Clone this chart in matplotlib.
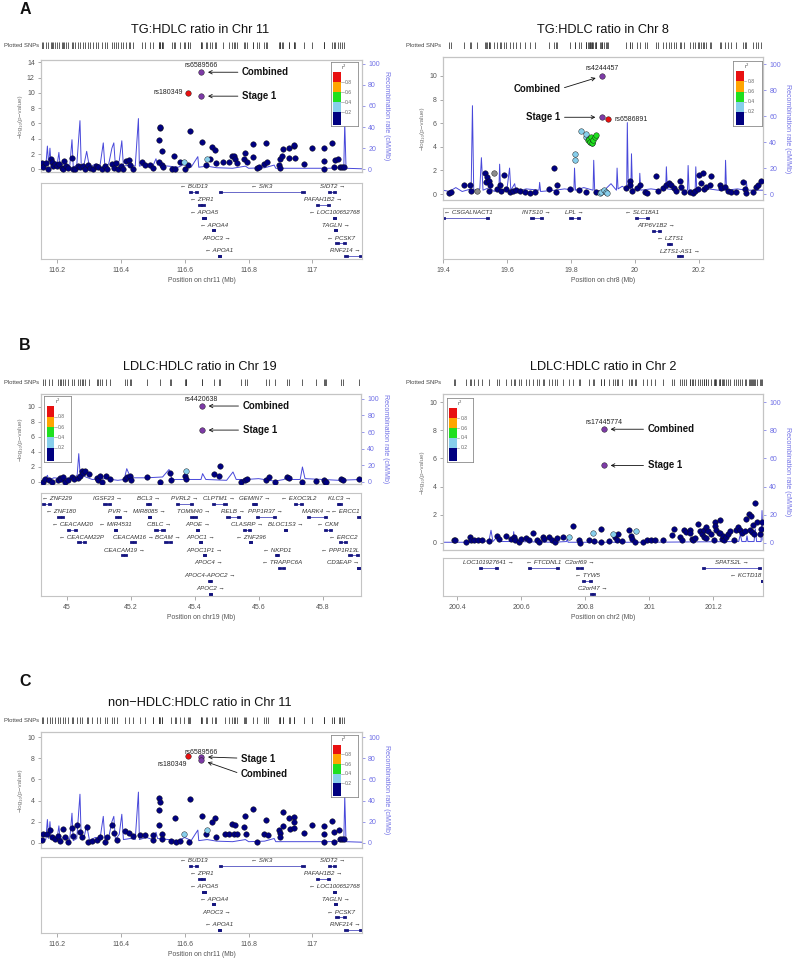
import matplotlib
matplotlib.use("Agg")
import matplotlib.pyplot as plt
from matplotlib.patches import Rectangle

plt.rcParams['font.family'] = ['Liberation Sans', 'DejaVu Sans']

# ------------------------------------------------------------------ data
# ---- Panel A (left): TG:HDLC ratio, chr11
A11_pos = [116.152, 116.157, 116.166, 116.173, 116.180, 116.183, 116.189, 116.194, 116.199, 116.207,
           116.215, 116.220, 116.222, 116.228, 116.236, 116.246, 116.249, 116.256, 116.267, 116.272,
           116.280, 116.288, 116.298, 116.303, 116.314, 116.322, 116.330, 116.340, 116.350, 116.356,
           116.371, 116.377, 116.385, 116.392, 116.400, 116.408, 116.416, 116.424, 116.429, 116.439,
           116.465, 116.476, 116.492, 116.502, 116.518, 116.518, 116.523, 116.523, 116.528, 116.528,
           116.533, 116.559, 116.567, 116.570, 116.586, 116.601, 116.609, 116.615, 116.654, 116.667,
           116.680, 116.685, 116.695, 116.697, 116.721, 116.740, 116.748, 116.755, 116.758, 116.763,
           116.784, 116.789, 116.795, 116.813, 116.813, 116.826, 116.831, 116.847, 116.855, 116.859,
           116.894, 116.897, 116.897, 116.904, 116.908, 116.925, 116.928, 116.941, 116.943, 116.946,
           116.972, 116.998, 117.035, 117.035, 117.035, 117.061, 117.066, 117.071, 117.079, 117.085,
           117.092, 117.098]
A11_logp = [0.8, 0.3, 0.8, 0.1, 1.3, 0.9, 0.5, 0.7, 0.4, 0.7,
            0.2, 0.0, 1.1, 0.5, 0.2, 1.5, 0.1, 0.0, 0.5, 0.3,
            0.5, 0.1, 0.6, 0.2, 0.0, 0.5, 0.3, 0.1, 0.4, 0.1,
            0.7, 0.2, 0.8, 0.1, 0.4, 0.1, 1.1, 1.2, 0.6, 0.1,
            1.0, 0.6, 0.6, 0.2, 3.9, 1.0, 5.4, 5.6, 2.4, 0.6,
            0.3, 0.1, 1.7, 0.0, 0.9, 0.1, 0.6, 5.0, 3.6, 0.6,
            1.4, 2.9, 2.5, 0.8, 0.9, 1.0, 1.7, 1.7, 1.3, 0.8,
            1.4, 2.2, 1.0, 3.3, 1.6, 0.2, 0.3, 0.7, 3.4, 0.9,
            0.6, 1.4, 0.2, 1.8, 2.6, 2.8, 1.5, 3.0, 3.2, 1.5,
            0.7, 2.8, 2.8, 1.1, 0.1, 3.4, 0.3, 1.2, 1.4, 0.3,
            0.3, 0.3]
A11_lb_pos = [116.598, 116.669]
A11_lb_logp = [0.9, 1.4]
A11_red_pos = [116.610]
A11_red_logp = [10.0]
A11_lead_pos = 116.651
A11_lead_stage1 = 9.57
A11_lead_combined = 12.7

# ---- Panel A (right): TG:HDLC ratio, chr8
A8_pos = [19.419, 19.426, 19.465, 19.483, 19.489, 19.530, 19.533, 19.538, 19.544, 19.544,
          19.546, 19.569, 19.577, 19.582, 19.590, 19.596, 19.608, 19.619, 19.629, 19.640,
          19.655, 19.671, 19.686, 19.731, 19.746, 19.752, 19.756, 19.796, 19.825, 19.846,
          19.879, 19.973, 19.983, 19.985, 19.992, 20.006, 20.015, 20.030, 20.038, 20.067,
          20.072, 20.088, 20.098, 20.106, 20.114, 20.121, 20.127, 20.140, 20.145, 20.152,
          20.171, 20.181, 20.186, 20.197, 20.200, 20.207, 20.213, 20.215, 20.223, 20.235,
          20.239, 20.265, 20.270, 20.280, 20.291, 20.301, 20.315, 20.338, 20.343, 20.346,
          20.369, 20.377, 20.384, 20.395]
A8_logp = [0.1, 0.15, 0.75, 0.75, 0.25, 1.8, 1.0, 1.45, 1.15, 0.25,
           0.8, 0.45, 0.75, 0.3, 1.65, 0.45, 0.15, 0.3, 0.35, 0.25,
           0.15, 0.1, 0.15, 0.45, 2.2, 0.15, 0.8, 0.4, 0.35, 0.2,
           0.2, 0.55, 1.15, 0.8, 0.3, 0.55, 0.8, 0.15, 0.1, 1.5,
           0.25, 0.55, 0.8, 0.9, 0.75, 0.55, 0.3, 1.1, 0.6, 0.15,
           0.15, 0.1, 0.25, 0.45, 1.6, 0.9, 1.8, 0.45, 0.6, 0.8,
           1.5, 0.75, 0.55, 0.6, 0.25, 0.15, 0.15, 1.0, 0.45, 0.1,
           0.15, 0.6, 0.75, 1.1]
A8_gray_pos = [19.506, 19.558]
A8_gray_logp = [0.25, 1.8]
A8_lb_pos = [19.811, 19.811, 19.832, 19.846, 19.848, 19.860, 19.867, 19.890, 19.895, 19.902, 19.908, 19.913]
A8_lb_logp = [3.4, 2.85, 5.35, 4.8, 5.1, 4.4, 4.3, 0.1, 0.2, 0.35, 0.15, 0.1]
A8_green_pos = [19.853, 19.856, 19.858, 19.864, 19.867, 19.869, 19.874, 19.879]
A8_green_logp = [4.6, 4.7, 4.4, 4.85, 4.35, 4.6, 4.8, 5.0]
A8_red_pos = [19.916]
A8_red_logp = [6.33]
A8_lead_pos = 19.898
A8_lead_stage1 = 6.5
A8_lead_combined = 10.0

# ---- Panel B (left): LDLC:HDLC ratio, chr19
B19_pos = [44.925, 44.932, 44.946, 44.953, 44.974, 44.979, 44.984, 44.990, 44.995, 45.005,
           45.016, 45.023, 45.037, 45.042, 45.047, 45.050, 45.058, 45.071, 45.094, 45.099,
           45.105, 45.110, 45.123, 45.136, 45.183, 45.188, 45.197, 45.201, 45.251, 45.291,
           45.324, 45.326, 45.371, 45.374, 45.460, 45.476, 45.479, 45.544, 45.556, 45.563,
           45.622, 45.633, 45.651, 45.690, 45.696, 45.737, 45.779, 45.803, 45.808, 45.811,
           45.858, 45.863, 45.915]
B19_logp = [0.05, 0.35, 0.2, 0.05, 0.2, 0.5, 0.35, 0.7, 0.05, 0.25,
            0.7, 0.35, 0.5, 0.85, 1.4, 1.25, 1.4, 1.05, 0.5, 0.25,
            0.85, 0.05, 0.8, 0.35, 0.35, 0.7, 0.85, 0.25, 0.6, 0.05,
            1.25, 0.25, 0.8, 0.35, 1.05, 0.85, 2.15, 0.05, 0.2, 0.35,
            0.2, 0.7, 0.0, 0.7, 0.5, 0.05, 0.15, 0.25, 0.05, 0.0,
            0.35, 0.2, 0.35]
B19_lb_pos = [45.373]
B19_lb_logp = [1.45]
B19_lead_pos = 45.422
B19_lead_stage1 = 6.9
B19_lead_combined = 10.1

# ---- Panel B (right): LDLC:HDLC ratio, chr2
B2_pos = [200.390, 200.395, 200.429, 200.440, 200.444, 200.454, 200.465, 200.478, 200.499, 200.525,
          200.530, 200.554, 200.567, 200.577, 200.582, 200.593, 200.600, 200.614, 200.624, 200.638,
          200.650, 200.655, 200.669, 200.673, 200.686, 200.697, 200.707, 200.713, 200.731, 200.761,
          200.780, 200.785, 200.811, 200.827, 200.851, 200.851, 200.874, 200.895, 200.900, 200.902,
          200.916, 200.936, 200.942, 200.947, 200.957, 200.981, 200.994, 201.006, 201.020, 201.044,
          201.072, 201.079, 201.098, 201.103, 201.108, 201.114, 201.127, 201.129, 201.134, 201.138,
          201.145, 201.153, 201.160, 201.166, 201.171, 201.173, 201.179, 201.179, 201.183, 201.194,
          201.202, 201.207, 201.207, 201.210, 201.218, 201.221, 201.223, 201.228, 201.231, 201.235,
          201.239, 201.246, 201.254, 201.265, 201.273, 201.277, 201.285, 201.291, 201.301, 201.304,
          201.311, 201.315, 201.319, 201.322, 201.325, 201.327, 201.332, 201.338, 201.346, 201.350,
          201.353]
B2_logp = [0.24, 0.2, 0.05, 0.42, 0.24, 0.2, 0.2, 0.2, 0.14, 0.47,
           0.28, 0.52, 0.28, 0.42, 0.2, 0.1, 0.28, 0.33, 0.24, 0.7,
           0.24, 0.1, 0.42, 0.28, 0.42, 0.24, 0.1, 0.33, 0.42, 1.18,
           0.2, 0.0, 0.2, 0.14, 0.99, 0.1, 0.14, 0.42, 0.24, 0.6,
           0.14, 0.94, 0.47, 0.28, 0.1, 0.1, 0.2, 0.2, 0.2, 0.2,
           0.54, 0.99, 0.42, 0.2, 0.94, 0.75, 0.94, 0.7, 0.28, 0.2,
           0.35, 1.32, 0.85, 0.66, 0.42, 0.94, 1.13, 0.33, 0.85, 0.66,
           0.24, 1.46, 1.18, 0.94, 0.7, 1.6, 0.7, 0.28, 0.52, 0.24,
           0.42, 0.66, 0.82, 0.24, 0.94, 1.13, 0.94, 0.7, 0.82, 1.69,
           2.07, 0.94, 1.88, 0.75, 1.29, 0.66, 2.87, 1.46, 0.66, 0.99,
           1.46]
B2_lb_pos = [200.751, 200.825, 200.886, 200.960]
B2_lb_logp = [0.42, 0.7, 0.6, 0.87]
B2_lead_pos = 200.858
B2_lead_stage1 = 5.5
B2_lead_combined = 8.07

# ---- Panel C: non-HDLC:HDLC ratio, chr11
C11_pos = [116.152, 116.155, 116.168, 116.178, 116.183, 116.194, 116.204, 116.209, 116.220, 116.225,
           116.235, 116.246, 116.249, 116.264, 116.272, 116.277, 116.295, 116.298, 116.309, 116.324,
           116.335, 116.350, 116.356, 116.371, 116.377, 116.387, 116.413, 116.424, 116.439, 116.460,
           116.476, 116.500, 116.502, 116.518, 116.518, 116.518, 116.523, 116.528, 116.528, 116.556,
           116.570, 116.573, 116.585, 116.612, 116.617, 116.653, 116.667, 116.685, 116.695, 116.698,
           116.727, 116.740, 116.748, 116.753, 116.758, 116.765, 116.784, 116.789, 116.792, 116.813,
           116.826, 116.847, 116.855, 116.862, 116.894, 116.897, 116.899, 116.907, 116.907, 116.928,
           116.930, 116.943, 116.943, 116.943, 116.972, 116.998, 117.035, 117.035, 117.037, 117.061,
           117.066, 117.066, 117.082, 117.087, 117.092, 117.098]
C11_logp = [0.3, 0.8, 0.8, 1.2, 0.5, 0.4, 0.6, 0.2, 1.3, 0.5,
            0.1, 1.4, 0.6, 1.7, 1.0, 0.5, 1.5, 0.1, 0.2, 0.3,
            0.5, 0.1, 0.5, 1.7, 0.9, 0.3, 1.1, 0.9, 0.6, 0.7,
            0.7, 0.3, 0.7, 4.2, 3.1, 1.7, 3.9, 0.8, 0.4, 0.2,
            2.3, 0.1, 0.2, 0.1, 4.1, 2.5, 0.8, 2.0, 2.3, 0.5,
            0.8, 0.8, 1.8, 0.8, 1.7, 0.8, 1.5, 2.5, 0.8, 3.2,
            0.1, 0.8, 2.2, 0.7, 1.2, 0.9, 0.5, 2.9, 1.6, 2.3,
            1.3, 2.4, 2.0, 1.4, 0.9, 1.7, 1.6, 0.8, 0.1, 2.1,
            1.0, 0.1, 1.2, 0.4, 0.4, 0.4]
C11_lb_pos = [116.598, 116.669]
C11_lb_logp = [0.8, 1.2]
C11_red_pos = [116.609]
C11_red_logp = [8.25]
C11_lead_pos = 116.651
C11_lead_stage1 = 8.15
C11_lead_combined = 7.85

# ---- Recombination rates (cM/Mb)
R11_pos = [116.150, 116.165, 116.170, 116.174, 116.178, 116.182, 116.190, 116.200, 116.206, 116.210,
           116.225, 116.240, 116.247, 116.251, 116.262, 116.272, 116.276, 116.285, 116.293, 116.297,
           116.302, 116.320, 116.335, 116.345, 116.350, 116.362, 116.372, 116.378, 116.383, 116.395,
           116.403, 116.408, 116.430, 116.445, 116.455, 116.458, 116.480, 116.500, 116.510, 116.515,
           116.550, 116.580, 116.600, 116.620, 116.641, 116.644, 116.670, 116.700, 116.750, 116.790,
           116.800, 116.850, 116.880, 116.885, 116.930, 116.960, 117.000, 117.050, 117.098, 117.101,
           117.105, 117.155]
R11_rate = [3, 3, 22, 4, 20, 3, 5, 3, 16, 3,
            6, 3, 28, 2, 4, 46, 3, 5, 17, 10,
            2, 5, 4, 25, 3, 5, 20, 25, 3, 8,
            27, 3, 4, 3, 48, 3, 5, 3, 10, 4,
            3, 2, 5, 2, 12, 2, 3, 1.5, 1, 3,
            1, 1.5, 4, 1, 1, 1, 1, 1, 1.5, 44,
            1, 0.5]
R8_pos = [19.400, 19.420, 19.440, 19.460, 19.488, 19.492, 19.496, 19.515, 19.520, 19.525,
          19.545, 19.560, 19.575, 19.577, 19.580, 19.600, 19.608, 19.612, 19.624, 19.628,
          19.660, 19.700, 19.702, 19.705, 19.750, 19.780, 19.809, 19.811, 19.814, 19.840,
          19.869, 19.871, 19.874, 19.900, 19.925, 19.935, 19.942, 19.944, 19.947, 19.960,
          19.974, 19.976, 19.979, 19.987, 19.989, 19.992, 20.013, 20.015, 20.018, 20.050,
          20.080, 20.096, 20.098, 20.101, 20.130, 20.164, 20.166, 20.169, 20.188, 20.190,
          20.193, 20.230, 20.260, 20.281, 20.283, 20.286, 20.320, 20.346, 20.348, 20.351,
          20.400]
R8_rate = [3, 2, 5, 2, 4, 68, 3, 4, 28, 3,
           5, 2, 6, 23, 3, 4, 20, 3, 8, 2,
           4, 3, 9, 2, 3, 4, 3, 20, 3, 5,
           3, 26, 3, 2, 8, 5, 3, 20, 4, 6,
           4, 55, 5, 4, 31, 4, 3, 16, 3, 4,
           3, 4, 21, 4, 3, 3, 22, 3, 3, 21,
           3, 4, 3, 3, 26, 3, 4, 3, 10, 3,
           3]
R19_pos = [44.920, 44.935, 44.940, 44.945, 44.960, 44.990, 45.020, 45.033, 45.038, 45.042,
           45.060, 45.080, 45.120, 45.160, 45.180, 45.188, 45.200, 45.250, 45.300, 45.320,
           45.330, 45.380, 45.420, 45.425, 45.435, 45.500, 45.520, 45.530, 45.560, 45.600,
           45.650, 45.680, 45.690, 45.700, 45.730, 45.737, 45.745, 45.800, 45.850, 45.920]
R19_rate = [3, 4, 8, 2, 5, 4, 5, 8, 34, 10,
            6, 3, 4, 2, 3, 16, 5, 5, 6, 15,
            3, 3, 3, 10, 3, 2, 12, 3, 3, 4,
            1, 3, 8, 3, 3, 18, 4, 3, 2, 3]
R2_pos = [200.356, 200.480, 200.500, 200.506, 200.512, 200.528, 200.533, 200.574, 200.577, 200.580,
          200.700, 200.742, 200.744, 200.747, 201.000, 201.280, 201.285, 201.290, 201.303, 201.306,
          201.309, 201.328, 201.332, 201.336, 201.350, 201.353, 201.356]
R2_rate = [0.5, 0.5, 2, 9, 1, 5, 1, 1, 8, 1,
           0.5, 1, 3, 0.5, 0.5, 1, 6, 1, 1, 5,
           1, 1, 10, 1, 1, 23, 2]

# ---- Genes
G11_names = ['BUD13', 'SIK3', 'SIDT2', 'ZPR1', 'PAFAH1B2', 'APOA5', 'LOC100652768',
             'APOA4', 'TAGLN', 'APOC3', 'PCSK7', 'APOA1', 'RNF214']
G11_start = [116.617, 116.711, 117.051, 116.646, 117.014, 116.658, 117.068,
             116.690, 117.070, 116.700, 117.075, 116.706, 117.103]
G11_end = [116.638, 116.972, 117.072, 116.659, 117.051, 116.662, 117.072,
           116.693, 117.074, 116.702, 117.103, 116.709, 117.152]
G11_strand = [-1, -1, 1, -1, 1, -1, -1, -1, 1, 1, -1, -1, 1]
G11_row = [0, 0, 0, 1, 1, 2, 2, 3, 3, 4, 4, 5, 5]

G8_names = ['CSGALNACT1', 'INTS10', 'LPL', 'SLC18A1', 'ATP6V1B2', 'LZTS1', 'LZTS1-AS1']
G8_start = [19.400, 19.676, 19.798, 20.002, 20.056, 20.103, 20.134]
G8_end = [19.541, 19.710, 19.825, 20.041, 20.079, 20.114, 20.148]
G8_strand = [-1, 1, 1, -1, 1, -1, 1]
G8_row = [0, 0, 0, 0, 1, 2, 3]

G19_names = ['ZNF229', 'IGSF23', 'BCL3', 'PVRL2', 'CLPTM1', 'GEMIN7', 'EXOC3L2', 'KLC3',
             'ZNF180', 'PVR', 'MIR8085', 'TOMM40', 'RELB', 'PPP1R37', 'MARK4', 'ERCC1',
             'CEACAM20', 'MIR4531', 'CBLC', 'APOE', 'CLASRP', 'BLOC1S3', 'CKM',
             'CEACAM22P', 'CEACAM16', 'BCAM', 'APOC1', 'ZNF296', 'ERCC2',
             'CEACAM19', 'APOC1P1', 'NKPD1', 'PPP1R13L',
             'APOC4', 'TRAPPC6A', 'CD3EAP', 'APOC4-APOC2', 'APOC2']
G19_start = [44.925, 45.118, 45.251, 45.345, 45.458, 45.584, 45.713, 45.847,
             44.974, 45.155, 45.259, 45.389, 45.502, 45.594, 45.753, 45.912,
             45.005, 45.151, 45.277, 45.408, 45.554, 45.682, 45.807,
             45.037, 45.201, 45.309, 45.416, 45.573, 45.853,
             45.173, 45.430, 45.654, 45.884,
             45.444, 45.664, 45.910, 45.444, 45.448]
G19_end = [44.948, 45.136, 45.262, 45.392, 45.497, 45.591, 45.737, 45.856,
           44.990, 45.167, 45.261, 45.403, 45.539, 45.651, 45.811, 45.923,
           45.029, 45.153, 45.303, 45.412, 45.573, 45.685, 45.826,
           45.058, 45.214, 45.326, 45.421, 45.577, 45.873,
           45.186, 45.432, 45.661, 45.912,
           45.446, 45.680, 45.914, 45.452, 45.452]
G19_strand = [-1, 1, 1, 1, 1, 1, -1, 1,
              -1, 1, 1, 1, 1, 1, 1, -1,
              -1, -1, 1, 1, 1, 1, -1,
              -1, 1, 1, 1, -1, -1,
              1, 1, -1, -1,
              1, -1, 1, 1, 1]
G19_row = [0, 0, 0, 0, 0, 0, 0, 0,
           1, 1, 1, 1, 1, 1, 1, 1,
           2, 2, 2, 2, 2, 2, 2,
           3, 3, 3, 3, 3, 3,
           4, 4, 4, 4,
           5, 5, 5, 6, 7]

G2_names = ['LOC101927641', 'FTCDNL1', 'C2orf69', 'SPATS2L', 'TYW5', 'KCTD18', 'C2orf47']
G2_start = [200.471, 200.624, 200.775, 201.169, 200.794, 201.353, 200.817]
G2_end = [200.525, 200.715, 200.791, 201.346, 200.819, 201.358, 200.829]
G2_strand = [1, -1, 1, 1, -1, -1, 1]
G2_row = [0, 0, 0, 0, 1, 1, 2]

R2_LABELS = ['0.2', '0.4', '0.6', '0.8']

# ------------------------------------------------------------------ style
W, H = 794, 960
fig = plt.figure(figsize=(W / 100, H / 100), dpi=100)

NAVY = '#000080'
LBLUE = '#87CEEB'
GREEN = '#1FE01F'
ORANGE = '#FFA500'
RED = '#E81010'
PURPLE = '#7D3BA6'
GRAYPT = '#8C8C8C'
RCOL = '#4848DA'
RAXIS = '#7070E6'
FRAME = '#C4C4C4'
TXT = '#555555'


def fig_axes(l, t, r, b):
    return fig.add_axes([l / W, 1 - b / H, (r - l) / W, (b - t) / H])


def ftext(x, y, s, **kw):
    return fig.text(x / W, 1 - y / H, s, **kw)


gene_texts = []


def draw_legend(ax, bounds):
    lax = ax.inset_axes(bounds)
    lax.set_xlim(0, 1)
    lax.set_ylim(0, 1)
    lax.set_xticks([])
    lax.set_yticks([])
    lax.set_zorder(20)
    lax.patch.set_facecolor('white')
    for s in lax.spines.values():
        s.set_color('#8A8A8A')
        s.set_linewidth(0.6)
    cols = [NAVY, LBLUE, GREEN, ORANGE, RED]
    edges = [0.02, 0.22, 0.376, 0.531, 0.687, 0.843]
    for i, c in enumerate(cols):
        lax.add_patch(Rectangle((0.09, edges[i]), 0.28, edges[i + 1] - edges[i],
                                facecolor=c, edgecolor='none'))
    for i, lab in enumerate(R2_LABELS):
        y = edges[i + 1]
        lax.plot([0.37, 0.47], [y, y], color='#888888', lw=0.4)
        lax.text(0.52, y, lab, fontsize=3.6, va='center', ha='left', color='#666666')
    lax.text(0.5, 0.925, 'r$^2$', fontsize=4, ha='center', va='center', color='#555555')


def panel(title, tpos, letter, lpos, rug_box, snp_lab, main_box, gene_box, xlim, xticks,
          chrom, ylim, yticks, factor, leg_bounds, rpos, rrate, groups, genes, first_row):
    ftext(tpos[0], tpos[1], title, ha='center', va='center', fontsize=9.2, color='#111111')
    if letter:
        ftext(lpos[0], lpos[1], letter, ha='center', va='center', fontsize=11.5,
              fontweight='bold', color='#111111')
    # plotted SNPs rug
    rax = fig_axes(*rug_box)
    allpos = [p for g in groups for p in g[0]]
    rax.vlines(allpos, 0, 1, color='#333333', lw=0.55)
    rax.set_xlim(xlim)
    rax.set_ylim(0, 1)
    rax.axis('off')
    ftext(snp_lab[0], snp_lab[1], 'Plotted SNPs', ha='right', va='center',
          fontsize=4.2, color='#444444')
    # main association axes
    ax = fig_axes(*main_box)
    ax2 = ax.twinx()
    ax.set_zorder(ax2.get_zorder() + 1)
    ax.patch.set_visible(False)
    ax2.plot(rpos, rrate, color=RCOL, lw=0.7)
    for pos, lp, col in groups:
        ax.scatter(pos, lp, s=16, c=col, edgecolors='#111111', linewidths=0.3, zorder=3)
    ax.set_xlim(xlim)
    ax.set_ylim(ylim)
    ax.set_yticks(yticks)
    ax.set_xticks([])
    ax2.set_ylim(ylim[0] * factor, ylim[1] * factor)
    ax2.set_yticks(list(range(0, 101, 20)))
    for a in (ax, ax2):
        for s in a.spines.values():
            s.set_color(FRAME)
            s.set_linewidth(0.8)
    ax.tick_params(axis='y', length=2.5, width=0.5, colors='#888888', labelsize=5,
                   labelcolor=TXT, pad=2)
    ax2.tick_params(axis='y', length=2.5, width=0.5, colors=RAXIS, labelsize=5,
                    labelcolor=RAXIS, pad=2)
    ax.set_ylabel('\u2212log\u2081\u2080(p\u2212value)', fontsize=4.6, color='#777777', labelpad=3)
    ax2.set_ylabel('Recombination rate (cM/Mb)', rotation=270, fontsize=5, color=RAXIS,
                   labelpad=7)
    draw_legend(ax, leg_bounds)
    # gene axes
    gax = fig_axes(*gene_box)
    gh = gene_box[3] - gene_box[1]
    gax.set_xlim(xlim)
    gax.set_ylim(gh, 0)
    gax.set_yticks([])
    gax.set_xticks(xticks)
    gax.set_xticklabels(['%g' % t for t in xticks])
    gax.tick_params(axis='x', length=3, width=0.5, color='#888888', labelsize=5,
                    labelcolor=TXT, pad=3)
    gax.set_xlabel('Position on %s (Mb)' % chrom, fontsize=4.9, color=TXT, labelpad=2)
    for s in gax.spines.values():
        s.set_color(FRAME)
        s.set_linewidth(0.8)
    names, starts, ends, strands, rows = genes
    for n, s, e, st, r in zip(names, starts, ends, strands, rows):
        ly = first_row + 12.8 * r
        by = ly + 5.0
        gax.plot([s, e], [by, by], color='#5050C0', lw=0.6, solid_capstyle='butt')
        ex = min(e - s, 0.004)
        gax.plot([s, s + ex], [by, by], color='#14147E', lw=2.0, solid_capstyle='projecting')
        gax.plot([e - ex, e], [by, by], color='#14147E', lw=2.0, solid_capstyle='projecting')
        label = '\u2190 ' + n if st < 0 else n + ' \u2192'
        t = gax.text((s + e) / 2, ly, label, ha='center', va='center', fontsize=4.4,
                     style='italic', color='#333333')
        gene_texts.append((t, gax))
    return ax


def note(ax, text, xy, off, ha='left', relpos=(0.5, 0.5)):
    ax.annotate(text, xy=xy, xytext=off, textcoords='offset pixels', ha=ha, va='center',
                fontsize=6.9, fontweight='bold', color='#111111', zorder=10,
                arrowprops=dict(arrowstyle='->,head_length=0.35,head_width=0.18', lw=0.6,
                                color='#111111', shrinkA=1, shrinkB=5, relpos=relpos))


def rslab(ax, text, xy, off, ha='center'):
    ax.annotate(text, xy=xy, xytext=off, textcoords='offset pixels', ha=ha, va='center',
                fontsize=5, color='#222222', zorder=10)


# ------------------------------------------------------------------ panels
# A left
axA1 = panel('TG:HDLC ratio in Chr 11', (200, 30), 'A', (25, 9), (41, 42, 362, 49), (39, 45.5),
             (41, 60, 362, 172), (41, 183, 362, 259), (116.15, 117.155),
             [116.2, 116.4, 116.6, 116.8, 117.0], 'chr11', (-0.35, 14.3), list(range(0, 15, 2)),
             7.23, [0.903, 0.41, 0.084, 0.57], R11_pos, R11_rate,
             [(A11_pos, A11_logp, NAVY), (A11_lb_pos, A11_lb_logp, LBLUE),
              (A11_red_pos, A11_red_logp, RED),
              ([A11_lead_pos, A11_lead_pos], [A11_lead_stage1, A11_lead_combined], PURPLE)],
             (G11_names, G11_start, G11_end, G11_strand, G11_row), 4)
rslab(axA1, 'rs6589566', (A11_lead_pos, A11_lead_combined), (0, 7))
rslab(axA1, 'rs180349', (A11_red_pos[0], A11_red_logp[0]), (-5, 0), ha='right')
note(axA1, 'Combined', (A11_lead_pos, A11_lead_combined), (41, 0))
note(axA1, 'Stage 1', (A11_lead_pos, A11_lead_stage1), (41, 0))

# A right
axA2 = panel('TG:HDLC ratio in Chr 8', (603, 30), None, None, (443, 42, 763, 49), (441, 45.5),
             (443, 57, 763, 200), (443, 208, 763, 259), (19.4, 20.4),
             [19.4, 19.6, 19.8, 20.0, 20.2], 'chr8', (-0.5, 11.6), list(range(0, 11, 2)),
             9.09, [0.906, 0.517, 0.09, 0.455], R8_pos, R8_rate,
             [(A8_pos, A8_logp, NAVY), (A8_gray_pos, A8_gray_logp, GRAYPT),
              (A8_lb_pos, A8_lb_logp, LBLUE), (A8_green_pos, A8_green_logp, GREEN),
              (A8_red_pos, A8_red_logp, RED),
              ([A8_lead_pos, A8_lead_pos], [A8_lead_stage1, A8_lead_combined], PURPLE)],
             (G8_names, G8_start, G8_end, G8_strand, G8_row), 5)
rslab(axA2, 'rs4244457', (A8_lead_pos, A8_lead_combined), (0, 7))
rslab(axA2, 'rs6586891', (A8_red_pos[0], A8_red_logp[0]), (6, 0), ha='left')
note(axA2, 'Combined', (A8_lead_pos, A8_lead_combined), (-42, -13), ha='right', relpos=(1, 0.5))
note(axA2, 'Stage 1', (A8_lead_pos, A8_lead_stage1), (-42, 0), ha='right')

# B left
axB1 = panel('LDLC:HDLC ratio in Chr 19', (200, 367), 'B', (25, 345), (41, 379, 361, 386),
             (39, 382.5), (41, 394, 361, 484), (41, 493, 361, 596), (44.92, 45.92),
             [45.0, 45.2, 45.4, 45.6, 45.8], 'chr19', (-0.27, 11.7), list(range(0, 11, 2)),
             9.03, [0.01, 0.244, 0.084, 0.733], R19_pos, R19_rate,
             [(B19_pos, B19_logp, NAVY), (B19_lb_pos, B19_lb_logp, LBLUE),
              ([B19_lead_pos, B19_lead_pos], [B19_lead_stage1, B19_lead_combined], PURPLE)],
             (G19_names, G19_start, G19_end, G19_strand, G19_row), 6)
rslab(axB1, 'rs4420638', (B19_lead_pos, B19_lead_combined), (0, 7))
note(axB1, 'Combined', (B19_lead_pos, B19_lead_combined), (41, 0))
note(axB1, 'Stage 1', (B19_lead_pos, B19_lead_stage1), (41, 0))

# B right
axB2 = panel('LDLC:HDLC ratio in Chr 2', (603, 367), None, None, (443, 379, 763, 386),
             (441, 382.5), (443, 394, 763, 550), (443, 558, 763, 596), (200.356, 201.356),
             [200.4, 200.6, 200.8, 201.0, 201.2], 'chr2', (-0.5, 10.57), list(range(0, 11, 2)),
             10.0, [0.0125, 0.564, 0.081, 0.41], R2_pos, R2_rate,
             [(B2_pos, B2_logp, NAVY), (B2_lb_pos, B2_lb_logp, LBLUE),
              ([B2_lead_pos, B2_lead_pos], [B2_lead_stage1, B2_lead_combined], PURPLE)],
             (G2_names, G2_start, G2_end, G2_strand, G2_row), 5)
rslab(axB2, 'rs17445774', (B2_lead_pos, B2_lead_combined), (0, 7))
note(axB2, 'Combined', (B2_lead_pos, B2_lead_combined), (44, 0))
note(axB2, 'Stage 1', (B2_lead_pos, B2_lead_stage1), (44, 0))

# C
axC = panel('non\u2212HDLC:HDLC ratio in Chr 11', (200, 703), 'C', (25, 682), (41, 717, 362, 724),
            (39, 720.5), (41, 732, 362, 848), (41, 857, 362, 933), (116.15, 117.155),
            [116.2, 116.4, 116.6, 116.8, 117.0], 'chr11', (-0.5, 10.5), list(range(0, 11, 2)),
            10.0, [0.903, 0.44, 0.084, 0.534], R11_pos, R11_rate,
            [(C11_pos, C11_logp, NAVY), (C11_lb_pos, C11_lb_logp, LBLUE),
             (C11_red_pos, C11_red_logp, RED),
             ([C11_lead_pos, C11_lead_pos], [C11_lead_stage1, C11_lead_combined], PURPLE)],
            (G11_names, G11_start, G11_end, G11_strand, G11_row), 4)
rslab(axC, 'rs6589566', (C11_lead_pos, C11_lead_stage1), (0, 4))
rslab(axC, 'rs180349', (C11_red_pos[0], C11_red_logp[0]), (-15, -9))
note(axC, 'Stage 1', (C11_lead_pos, C11_lead_stage1), (40, -2))
note(axC, 'Combined', (C11_lead_pos, C11_lead_combined), (40, -14), relpos=(0, 0.5))

# keep gene labels inside their panels
fig.canvas.draw()
renderer = fig.canvas.get_renderer()
for t, gax in gene_texts:
    bb = t.get_window_extent(renderer)
    abb = gax.get_window_extent(renderer)
    x0, x1 = gax.get_xlim()
    scale = (x1 - x0) / abb.width
    x, y = t.get_position()
    if bb.x1 > abb.x1 - 1.5:
        t.set_position((x - (bb.x1 - abb.x1 + 1.5) * scale, y))
    elif bb.x0 < abb.x0 + 1.5:
        t.set_position((x + (abb.x0 + 1.5 - bb.x0) * scale, y))

fig.savefig('out.png', dpi=100, facecolor='white')
